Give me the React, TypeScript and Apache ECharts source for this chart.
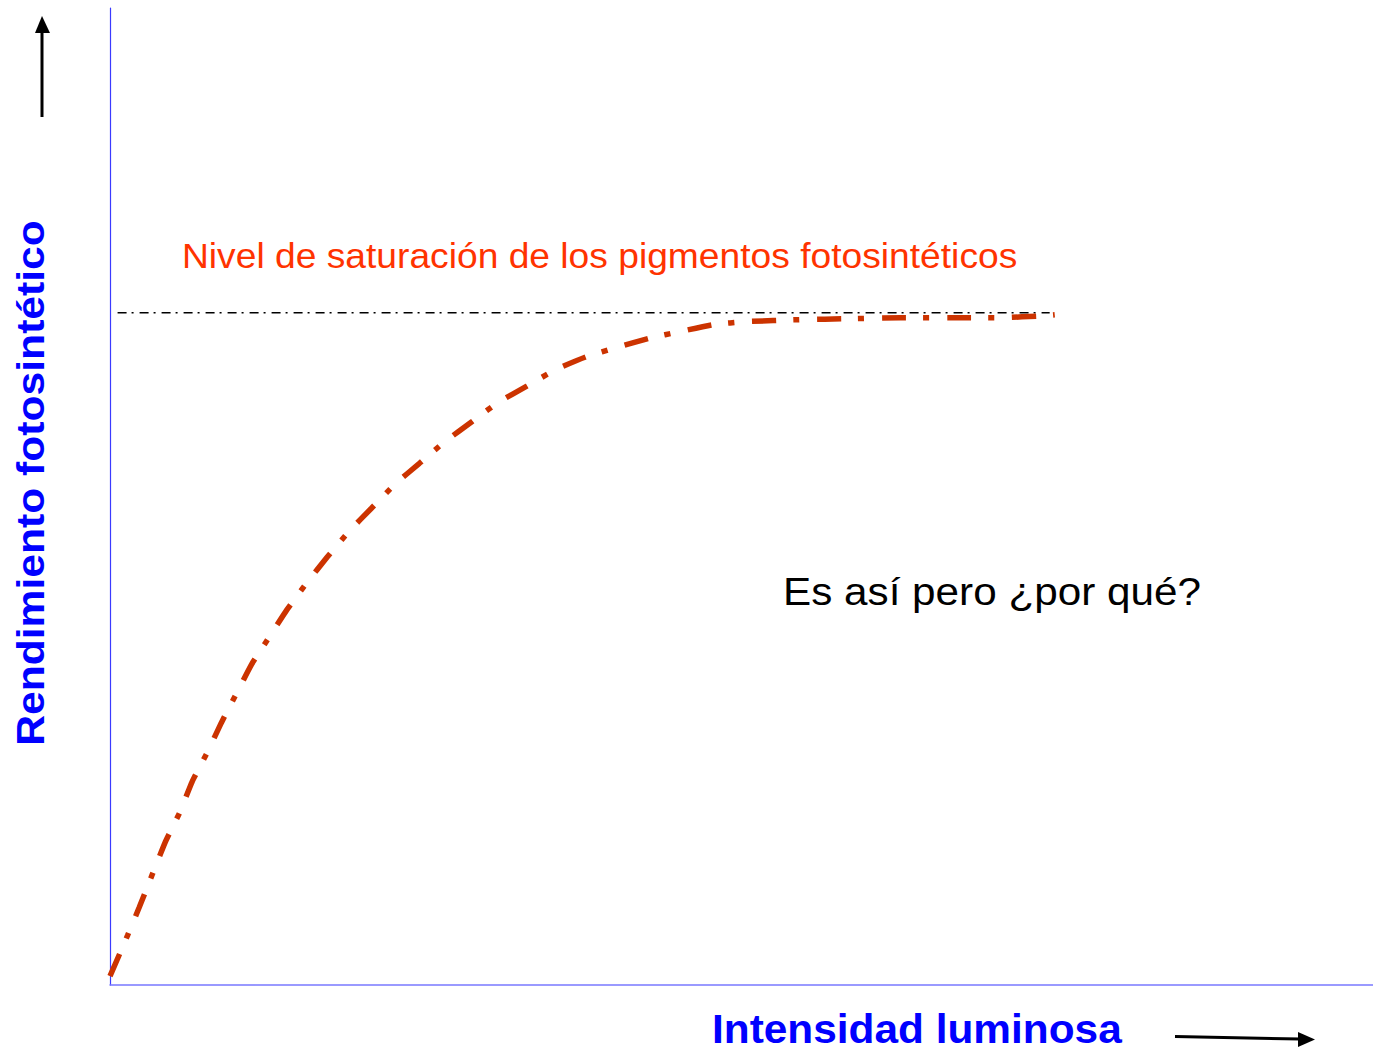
import React, { useEffect, useRef } from "react";
import * as echarts from "echarts";

// Light intensity (relative units, 0-100) vs photosynthetic yield (relative units, 0-100)
const intensity = [0, 1.4, 2.3, 4.4, 5.5, 6.5, 7.7, 8.8, 10.0, 11.2, 12.6, 14.0, 15.6, 17.2, 18.9, 20.7, 22.6, 24.5, 26.5, 28.7, 30.7, 33.0, 35.3, 37.7, 40.2, 42.7, 45.2, 47.8, 50.4, 54.6, 58.6, 62.6, 66.5, 70.5, 73.9, 74.8];
const yieldValues = [0.9, 5.1, 7.9, 14.7, 17.6, 20.8, 23.8, 26.8, 29.8, 32.8, 35.6, 38.4, 41.2, 43.8, 46.4, 48.8, 51.3, 53.4, 55.6, 57.7, 59.6, 61.3, 63.0, 64.3, 65.3, 66.2, 66.9, 67.6, 67.9, 68.1, 68.2, 68.3, 68.3, 68.3, 68.5, 68.6];
const saturationLevel = 68.8;
const saturationRange = [0.6, 74.4];

const labels = {
  saturation: "Nivel de saturación de los pigmentos fotosintéticos",
  question: "Es así pero ¿por qué?",
  xTitle: "Intensidad luminosa",
  yTitle: "Rendimiento fotosintético",
};

const FONT = "'Liberation Sans', Arial, Helvetica, sans-serif";

export default function App() {
  const ref = useRef<HTMLDivElement>(null);
  useEffect(() => {
    if (!ref.current) return;
    const chart = echarts.init(ref.current, null, { renderer: "svg" });
    chart.setOption({
      animation: false,
      backgroundColor: "#ffffff",
      grid: { left: 110, right: 0, top: 8, bottom: 68 },
      xAxis: {
        type: "value",
        min: 0,
        max: 100,
        axisLine: { show: true, onZero: false, lineStyle: { color: "#7878ff", width: 1.5 } },
        axisTick: { show: false },
        axisLabel: { show: false },
        splitLine: { show: false },
      },
      yAxis: {
        type: "value",
        min: 0,
        max: 100,
        axisLine: { show: true, onZero: false, lineStyle: { color: "#3a3aff", width: 1.2 } },
        axisTick: { show: false },
        axisLabel: { show: false },
        splitLine: { show: false },
      },
      series: [
        {
          type: "line",
          data: saturationRange.map((x) => [x, saturationLevel]),
          symbol: "none",
          silent: true,
          lineStyle: { color: "#000000", width: 1.5, type: [9, 5, 2, 6], cap: "butt" },
        },
        {
          type: "line",
          data: intensity.map((x, i) => [x, yieldValues[i]]),
          symbol: "none",
          smooth: 0.15,
          silent: true,
          lineStyle: { color: "#cc3300", width: 5.5, type: [24, 17, 6, 18], cap: "butt" },
        },
      ],
      graphic: [
        {
          type: "text",
          x: 182,
          y: 256,
          scaleX: 1.063,
          style: { text: labels.saturation, fill: "#ff3300", font: `35px ${FONT}`, textAlign: "left", textVerticalAlign: "middle" },
        },
        {
          type: "text",
          x: 783,
          y: 592,
          scaleX: 1.112,
          style: { text: labels.question, fill: "#000000", font: `38px ${FONT}`, textAlign: "left", textVerticalAlign: "middle" },
        },
        {
          type: "text",
          x: 712,
          y: 1029,
          scaleX: 1.034,
          style: { text: labels.xTitle, fill: "#0000ff", font: `bold 41px ${FONT}`, textAlign: "left", textVerticalAlign: "middle" },
        },
        {
          type: "text",
          x: 31,
          y: 483,
          rotation: Math.PI / 2,
          scaleX: 1.093,
          style: { text: labels.yTitle, fill: "#0000ff", font: `bold 39px ${FONT}`, textAlign: "center", textVerticalAlign: "middle" },
        },
        {
          type: "line",
          shape: { x1: 42, y1: 117, x2: 42, y2: 30 },
          style: { stroke: "#000000", lineWidth: 3 },
        },
        {
          type: "polygon",
          shape: { points: [[42, 16], [35, 33], [50, 33]] },
          style: { fill: "#000000" },
        },
        {
          type: "line",
          shape: { x1: 1175, y1: 1036.5, x2: 1300, y2: 1039 },
          style: { stroke: "#000000", lineWidth: 3 },
        },
        {
          type: "polygon",
          shape: { points: [[1315, 1039.5], [1298, 1032], [1298, 1047]] },
          style: { fill: "#000000" },
        },
      ],
    });
    return () => chart.dispose();
  }, []);
  return (
    <div
      ref={ref}
      style={{ position: "absolute", left: 0, top: 0, width: 1373, height: 1053 }}
    />
  );
}
